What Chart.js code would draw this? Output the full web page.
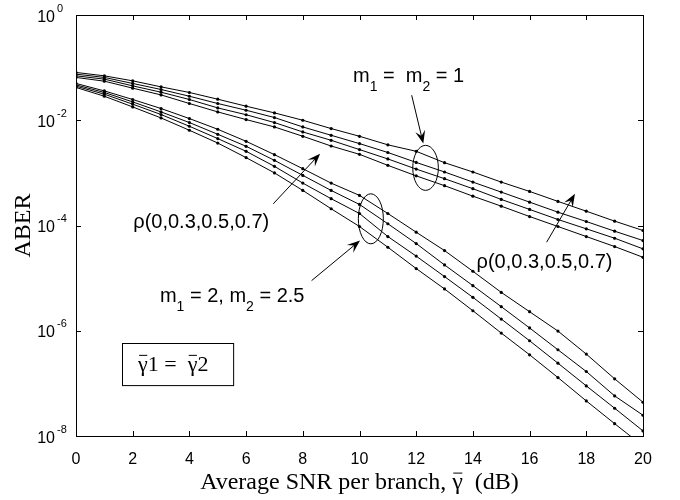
<!DOCTYPE html>
<html lang="en">
<head>
    <meta charset="UTF-8">
    <title>ABER vs average SNR</title>
    <script src="https://cdn.jsdelivr.net/npm/chart.js"></script>
    <style>
        body { margin: 0; background: #fff; }
    </style>
</head>
<body>

<canvas id="aberChart" width="680" height="500"></canvas>

<script>
    // x axis: average SNR per branch (dB)
    var snrDb = [0, 1, 2, 3, 4, 5, 6, 7, 8, 9, 10, 11, 12, 13, 14, 15, 16, 17, 18, 19, 20];
    var xTicks = [0, 2, 4, 6, 8, 10, 12, 14, 16, 18, 20];
    var yTicks = [1, 1e-2, 1e-4, 1e-6, 1e-8];
    var yTickExp = ['0', '-2', '-4', '-6', '-8'];

    // m1 = m2 = 1, rho = 0, 0.3, 0.5, 0.7
    var m1Rho00 = [0.081, 0.0698, 0.0561, 0.0431, 0.0337, 0.0251, 0.0185, 0.0138, 0.0100, 0.00695, 0.00496, 0.00341, 0.00257, 0.00156, 0.00104, 6.68e-4, 4.44e-4, 2.87e-4, 1.87e-4, 1.21e-4, 8.03e-5];
    var m1Rho03 = [0.0752, 0.0651, 0.0500, 0.0384, 0.0286, 0.0208, 0.0155, 0.01125, 0.00746, 0.00518, 0.00360, 0.00244, 0.00158, 0.00104, 6.68e-4, 4.31e-4, 2.78e-4, 1.79e-4, 1.19e-4, 7.79e-5, 5.18e-5];
    var m1Rho05 = [0.0698, 0.0604, 0.0450, 0.0341, 0.0248, 0.01715, 0.01273, 0.00904, 0.00599, 0.00416, 0.00277, 0.00184, 0.00118, 7.75e-4, 5.00e-4, 3.13e-4, 2.02e-4, 1.30e-4, 8.65e-5, 5.73e-5, 3.60e-5];
    var m1Rho07 = [0.0651, 0.0553, 0.0407, 0.0303, 0.0208, 0.0144, 0.0103, 0.00746, 0.00496, 0.00324, 0.00225, 0.00139, 8.77e-4, 5.71e-4, 3.61e-4, 2.33e-4, 1.48e-4, 9.57e-5, 6.17e-5, 3.98e-5, 2.49e-5];

    // m1 = 2, m2 = 2.5, rho = 0, 0.3, 0.5, 0.7
    var m2Rho00 = [0.0500, 0.0361, 0.0248, 0.0167, 0.01077, 0.00674, 0.00398, 0.00222, 0.00120, 6.39e-4, 3.73e-4, 1.69e-4, 7.46e-5, 3.34e-5, 1.35e-5, 5.36e-6, 2.30e-6, 9.87e-7, 3.60e-7, 1.22e-7, 4.38e-8];
    var m2Rho03 = [0.0470, 0.0337, 0.0223, 0.0144, 0.00904, 0.00541, 0.00320, 0.00173, 8.96e-4, 4.64e-4, 2.51e-4, 1.08e-4, 4.54e-5, 1.78e-5, 7.20e-6, 2.87e-6, 1.13e-6, 4.35e-7, 1.68e-7, 5.78e-8, 2.48e-8];
    var m2Rho05 = [0.0444, 0.0313, 0.0202, 0.01284, 0.00769, 0.00448, 0.00257, 0.00133, 6.39e-4, 3.23e-4, 1.69e-4, 6.17e-5, 2.62e-5, 1.07e-5, 4.31e-6, 1.67e-6, 6.45e-7, 2.42e-7, 8.96e-8, 3.37e-8, 1.25e-8];
    var m2Rho07 = [0.0420, 0.0286, 0.0179, 0.01106, 0.00645, 0.00369, 0.00195, 0.00100, 4.64e-4, 2.08e-4, 9.57e-5, 3.86e-5, 1.52e-5, 6.23e-6, 2.40e-6, 9.04e-7, 3.49e-7, 1.29e-7, 4.64e-8, 1.715e-8, 6.45e-9];

    var seriesList = [
        ['m1=m2=1, rho=0', m1Rho00], ['m1=m2=1, rho=0.3', m1Rho03],
        ['m1=m2=1, rho=0.5', m1Rho05], ['m1=m2=1, rho=0.7', m1Rho07],
        ['m1=2, m2=2.5, rho=0', m2Rho00], ['m1=2, m2=2.5, rho=0.3', m2Rho03],
        ['m1=2, m2=2.5, rho=0.5', m2Rho05], ['m1=2, m2=2.5, rho=0.7', m2Rho07]
    ];

    var datasets = seriesList.map(function(s) {
        return {
            label: s[0],
            data: snrDb.map(function(x, i) { return {x: x, y: s[1][i]}; }),
            borderColor: '#000',
            backgroundColor: '#000',
            borderWidth: 1,
            pointRadius: 1.6,
            pointBorderWidth: 0,
            tension: 0
        };
    });

    var SANS = '"Liberation Sans", Arial, sans-serif';
    var SERIF = '"Liberation Serif", "Times New Roman", serif';
    var xTitle = 'Average SNR per branch, γ  (dB)';

    // text with subscripts: parts = [[text, isSub], ...]
    function drawParts(ctx, parts, x, y, size) {
        parts.forEach(function(p) {
            var sub = p[1];
            ctx.font = (sub ? Math.round(size * 0.68) : size) + 'px ' + SANS;
            ctx.fillText(p[0], x, sub ? y + size * 0.42 : y);
            x += ctx.measureText(p[0]).width;
        });
    }

    // bar over a glyph that starts at x, top of bar at y
    function overbar(ctx, x, w, y) {
        ctx.beginPath();
        ctx.moveTo(x + 1, y + 0.5);
        ctx.lineTo(x + w - 0.5, y + 0.5);
        ctx.stroke();
    }

    function drawArrow(ctx, x1, y1, x2, y2) {
        var ang = Math.atan2(y2 - y1, x2 - x1);
        var len = 13, half = 5;
        ctx.beginPath();
        ctx.moveTo(x1, y1);
        ctx.lineTo(x2 - Math.cos(ang) * 6, y2 - Math.sin(ang) * 6);
        ctx.stroke();
        ctx.beginPath();
        ctx.moveTo(x2, y2);
        ctx.lineTo(x2 - Math.cos(ang) * len - Math.sin(ang) * half, y2 - Math.sin(ang) * len + Math.cos(ang) * half);
        ctx.lineTo(x2 - Math.cos(ang) * len * 0.6, y2 - Math.sin(ang) * len * 0.6);
        ctx.lineTo(x2 - Math.cos(ang) * len + Math.sin(ang) * half, y2 - Math.sin(ang) * len - Math.cos(ang) * half);
        ctx.closePath();
        ctx.fill();
    }

    // axes box, inward ticks, y labels 10^n and the annotations
    var framePlugin = {
        id: 'framePlugin',
        afterDraw: function(chart) {
            var ctx = chart.ctx;
            var area = chart.chartArea;
            var xs = chart.scales.x, ys = chart.scales.y;
            function px(v) { return xs.getPixelForValue(v); }
            function py(v) { return ys.getPixelForValue(v); }

            ctx.save();
            ctx.strokeStyle = '#000';
            ctx.fillStyle = '#000';
            ctx.lineWidth = 1;
            ctx.strokeRect(area.left + 0.5, area.top + 0.5, area.right - area.left, area.bottom - area.top);

            ctx.beginPath();
            xTicks.forEach(function(v) {
                var x = Math.round(px(v)) + 0.5;
                ctx.moveTo(x, area.bottom); ctx.lineTo(x, area.bottom - 5);
                ctx.moveTo(x, area.top); ctx.lineTo(x, area.top + 5);
            });
            yTicks.forEach(function(v) {
                var y = Math.round(py(v)) + 0.5;
                ctx.moveTo(area.left, y); ctx.lineTo(area.left + 5, y);
                ctx.moveTo(area.right, y); ctx.lineTo(area.right - 5, y);
            });
            ctx.stroke();

            // y tick labels with superscript exponent
            yTicks.forEach(function(v, i) {
                var y = py(v);
                ctx.font = '16px ' + SANS;
                ctx.textAlign = 'right';
                ctx.textBaseline = 'alphabetic';
                ctx.fillText('10', area.left - 21, y + 6.5);
                ctx.font = '11px ' + SANS;
                ctx.textAlign = 'left';
                ctx.fillText(yTickExp[i], area.left - 19, y - 3.5);
            });

            // bar over gamma in the x axis title (title drawn by Chart.js, centred, middle baseline)
            ctx.font = '24px ' + SERIF;
            var tW = ctx.measureText(xTitle).width;
            var gX = (xs.left + xs.right) / 2 - tW / 2 + ctx.measureText('Average SNR per branch, ').width;
            var gW = ctx.measureText('γ').width;
            var tMid = xs.bottom - 24 * 1.2 / 2 - 3;
            overbar(ctx, gX, gW, tMid - 10);

            // annotations
            ctx.textAlign = 'left';
            ctx.textBaseline = 'alphabetic';
            drawParts(ctx, [['m', 0], ['1', 1], [' =  m', 0], ['2', 1], [' = 1', 0]], px(9.77), py(0.053), 20);
            drawParts(ctx, [['ρ(0,0.3,0.5,0.7)', 0]], px(2.02), py(8.9e-5), 20);
            drawParts(ctx, [['ρ(0,0.3,0.5,0.7)', 0]], px(14.13), py(1.56e-5), 20);
            drawParts(ctx, [['m', 0], ['1', 1], [' = 2, m', 0], ['2', 1], [' = 2.5', 0]], px(2.96), py(3.46e-6), 20);

            ctx.beginPath();
            ctx.ellipse(px(12.33), py(1.245e-3), 12.8, 22.5, 0, 0, Math.PI * 2);
            ctx.stroke();
            ctx.beginPath();
            ctx.ellipse(px(10.4), py(1.34e-4), 12.5, 25, 0, 0, Math.PI * 2);
            ctx.stroke();

            drawArrow(ctx, px(11.84), py(0.0299), px(12.25), py(3.6e-3));
            drawArrow(ctx, px(8.31), py(8.96e-6), px(10.02), py(5.18e-5));
            drawArrow(ctx, px(6.96), py(2.59e-4), px(8.61), py(2.32e-3));
            drawArrow(ctx, px(16.6), py(4.81e-5), px(17.6), py(4.02e-4));

            // equal average SNR box
            var bx1 = px(1.63), bx2 = px(5.55), by1 = py(5.83e-7), by2 = py(9.24e-8);
            ctx.strokeRect(Math.round(bx1) + 0.5, Math.round(by1) + 0.5, bx2 - bx1, by2 - by1);
            ctx.font = '22px ' + SERIF;
            var boxX = px(2.19), boxY = py(1.73e-7);
            var g = ctx.measureText('γ').width;
            ctx.fillText('γ1 =  γ2', boxX, boxY);
            overbar(ctx, boxX, g, boxY - 16);
            overbar(ctx, boxX + ctx.measureText('γ1 =  ').width, g, boxY - 16);
            ctx.restore();
        }
    };

    var ctx = document.getElementById('aberChart').getContext('2d');
    var aberChart = new Chart(ctx, {
        type: 'line',
        data: { datasets: datasets },
        options: {
            responsive: false,
            animation: false,
            devicePixelRatio: 1,
            layout: { padding: { left: 0, top: 15, right: 37, bottom: 0 } },
            plugins: {
                legend: { display: false },
                tooltip: { enabled: false }
            },
            scales: {
                x: {
                    type: 'linear',
                    min: 0,
                    max: 20,
                    grid: { display: false },
                    border: { display: false },
                    ticks: {
                        stepSize: 2,
                        color: '#000',
                        padding: 6,
                        font: { family: SANS, size: 16 }
                    },
                    title: {
                        display: true,
                        text: xTitle,
                        color: '#000',
                        font: { family: SERIF, size: 24 },
                        padding: { top: 0, bottom: 3 }
                    },
                    afterFit: function(scale) { scale.height = 64; }
                },
                y: {
                    type: 'logarithmic',
                    min: 1e-8,
                    max: 1,
                    grid: { display: false },
                    border: { display: false },
                    ticks: { display: false },
                    title: {
                        display: true,
                        text: 'ABER',
                        color: '#000',
                        font: { family: SERIF, size: 24 },
                        padding: { top: 9, bottom: 0 }
                    },
                    afterFit: function(scale) { scale.width = 76; }
                }
            }
        },
        plugins: [framePlugin]
    });
</script>

</body>
</html>
